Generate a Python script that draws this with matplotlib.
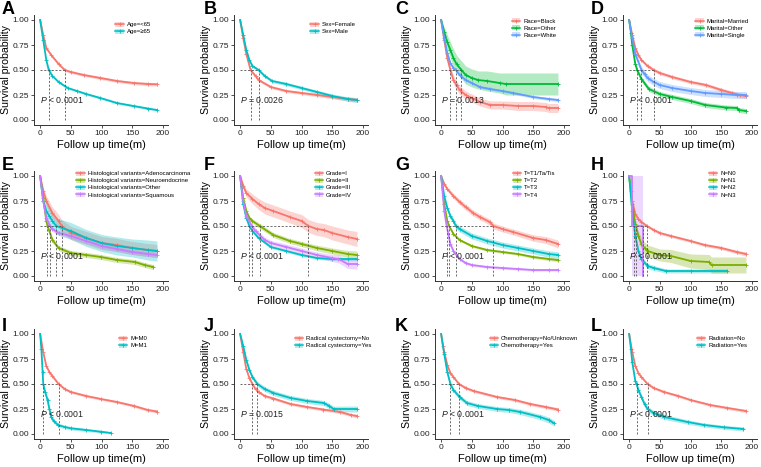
import numpy as np
import matplotlib.pyplot as plt
from matplotlib.patches import Patch
from matplotlib.lines import Line2D

plt.rcParams['font.family'] = ['Liberation Sans', 'DejaVu Sans']
plt.rcParams['mathtext.fontset'] = 'custom'
plt.rcParams['mathtext.it'] = 'Liberation Sans:italic'
plt.rcParams['mathtext.rm'] = 'Liberation Sans'

# Kurva KM: (waktu, survival, setengah lebar CI)
age_lt65 = [(0,1,0),(5,.85,.01),(10,.72,.012),(18,.65,.013),(30,.56,.014),(40,.50,.014),(50,.48,.014),
            (71,.45,.015),(98,.42,.015),(125,.39,.015),(152,.37,.016),(175,.36,.017),(190,.357,.017)]
age_ge65 = [(0,1,0),(5,.80,.01),(10,.60,.01),(14,.50,.011),(20,.44,.011),(30,.38,.011),(45,.32,.011),
            (60,.29,.011),(75,.26,.011),(98,.22,.011),(125,.17,.011),(152,.14,.011),(175,.115,.011),(190,.10,.011)]

sex_female = [(0,1,0),(5,.82,.012),(10,.66,.014),(17,.50,.015),(25,.44,.015),(30,.40,.015),(50,.33,.015),
              (75,.29,.015),(100,.27,.016),(125,.25,.017),(150,.23,.018),(175,.21,.02),(190,.20,.022)]
sex_male = [(0,1,0),(5,.85,.012),(10,.70,.014),(15,.60,.015),(20,.54,.016),(30,.50,.016),(40,.44,.016),
            (52,.39,.016),(75,.36,.017),(100,.32,.017),(125,.28,.018),(150,.24,.02),(175,.21,.022),(190,.20,.024)]

race_black = [(0,1,0),(5,.80,.03),(10,.62,.04),(15,.50,.045),(20,.40,.045),(25,.35,.045),(30,.30,.045),
              (40,.25,.04),(50,.22,.04),(63,.18,.04),(80,.15,.04),(100,.15,.04),(125,.14,.045),(150,.14,.045),
              (170,.13,.045),(175,.12,.045),(190,.12,.045)]
race_other = [(0,1,0),(5,.88,.05),(10,.78,.07),(15,.70,.08),(20,.62,.09),(25,.56,.09),(33,.50,.09),
              (40,.45,.09),(50,.42,.09),(60,.40,.09),(75,.39,.1),(95,.37,.1),(105,.36,.11),(190,.36,.11)]
race_white = [(0,1,0),(5,.82,.008),(10,.67,.01),(15,.57,.011),(20,.52,.011),(24,.50,.011),(30,.45,.011),
              (40,.40,.011),(50,.37,.011),(63,.33,.012),(80,.31,.012),(100,.29,.012),(117,.27,.013),
              (150,.23,.014),(175,.21,.015),(190,.20,.016)]

mar_married = [(0,1,0),(5,.85,.012),(10,.72,.014),(15,.65,.015),(20,.60,.016),(30,.54,.016),(40,.50,.017),
               (50,.47,.017),(70,.43,.017),(100,.38,.018),(125,.35,.018),(150,.30,.02),(167,.27,.02),
               (180,.25,.022),(190,.24,.024)]
mar_other = [(0,1,0),(3,.87,.02),(5,.75,.02),(10,.56,.025),(13,.50,.025),(20,.41,.025),(32,.31,.025),
             (50,.26,.025),(70,.23,.025),(100,.19,.025),(124,.15,.025),(157,.125,.025),(175,.12,.025),
             (178,.10,.025),(190,.09,.025)]
mar_single = [(0,1,0),(5,.82,.02),(10,.66,.03),(20,.50,.035),(25,.46,.035),(30,.42,.035),(40,.38,.035),
              (50,.35,.035),(70,.32,.035),(100,.29,.035),(124,.27,.035),(150,.26,.035),(175,.25,.035),(190,.25,.035)]

hist_adeno = [(0,1,0),(5,.85,.04),(10,.75,.05),(20,.63,.06),(30,.55,.065),(35,.50,.065),(50,.43,.065),
              (75,.38,.065),(100,.33,.065),(125,.31,.065),(150,.28,.065),(175,.26,.065),(190,.25,.065)]
hist_neuro = [(0,1,0),(5,.78,.02),(10,.55,.025),(12,.50,.025),(20,.36,.025),(30,.28,.025),(50,.23,.025),
              (75,.21,.025),(99,.19,.025),(125,.16,.025),(154,.14,.025),(170,.11,.025),(184,.09,.025)]
hist_other = [(0,1,0),(5,.75,.05),(10,.65,.07),(15,.60,.08),(20,.55,.08),(26,.50,.08),(50,.45,.085),
              (75,.38,.085),(100,.33,.085),(125,.30,.09),(150,.28,.09),(175,.26,.1),(190,.25,.1)]
hist_squam = [(0,1,0),(5,.75,.02),(10,.58,.025),(16,.50,.025),(20,.47,.025),(30,.43,.025),(50,.40,.025),
              (75,.35,.025),(100,.30,.025),(125,.27,.025),(150,.24,.025),(175,.22,.025),(190,.21,.025)]

grade_1 = [(0,1,0),(5,.90,.03),(10,.83,.04),(20,.77,.05),(30,.72,.055),(40,.68,.06),(54,.65,.06),(81,.59,.06),
           (100,.55,.065),(111,.50,.065),(125,.47,.065),(136,.46,.065),(150,.43,.07),(175,.39,.07),(190,.37,.075)]
grade_2 = [(0,1,0),(5,.78,.015),(10,.65,.02),(15,.58,.022),(20,.55,.023),(32,.50,.024),(54,.41,.025),
           (81,.35,.025),(100,.32,.026),(125,.28,.028),(150,.25,.03),(175,.22,.035),(190,.21,.04)]
grade_3 = [(0,1,0),(5,.72,.01),(10,.58,.012),(15,.50,.013),(20,.45,.013),(30,.38,.013),(50,.29,.013),
           (75,.25,.013),(100,.21,.014),(125,.18,.014),(150,.17,.015),(175,.17,.016),(190,.17,.017)]
grade_4 = [(0,1,0),(5,.75,.02),(10,.60,.025),(19,.50,.027),(25,.45,.027),(40,.36,.027),(50,.33,.027),
           (75,.29,.028),(100,.25,.03),(125,.21,.03),(150,.18,.035),(160,.17,.04),(175,.12,.045),(190,.12,.05)]

t_1 = [(0,1,0),(5,.92,.015),(10,.87,.02),(20,.80,.025),(30,.74,.028),(40,.69,.03),(52,.63,.03),(63,.59,.03),
       (79,.54,.03),(85,.50,.03),(100,.47,.03),(117,.44,.03),(150,.38,.032),(170,.36,.035),(190,.32,.04)]
t_2 = [(0,1,0),(5,.72,.01),(10,.55,.012),(13,.50,.012),(20,.42,.012),(30,.36,.012),(50,.30,.012),
       (75,.26,.012),(100,.24,.013),(125,.22,.013),(150,.19,.014),(175,.17,.015),(190,.16,.016)]
t_3 = [(0,1,0),(5,.80,.015),(10,.68,.02),(15,.60,.025),(20,.55,.028),(24,.50,.03),(30,.47,.03),(50,.40,.03),
       (75,.35,.03),(100,.31,.03),(125,.28,.03),(150,.25,.03),(175,.22,.032),(190,.21,.034)]
t_4 = [(0,1,0),(5,.65,.015),(9,.50,.017),(15,.32,.017),(20,.25,.016),(30,.17,.015),(40,.13,.014),
       (50,.11,.013),(75,.09,.012),(100,.08,.012),(125,.07,.012),(150,.06,.012),(175,.06,.012),(190,.06,.012)]

n_0 = [(0,1,0),(3,.85,.01),(5,.75,.012),(10,.62,.013),(15,.57,.014),(20,.54,.014),(29,.50,.015),
       (40,.46,.015),(50,.43,.015),(68,.40,.015),(100,.35,.015),(123,.31,.016),(150,.28,.017),
       (175,.24,.018),(190,.22,.02)]
n_1 = [(0,1,0),(5,.72,.04),(10,.52,.05),(11,.50,.05),(15,.40,.05),(20,.32,.055),(25,.28,.06),(30,.25,.06),
       (50,.21,.06),(68,.20,.065),(100,.15,.07),(130,.14,.075),(134,.11,.08),(190,.11,.08)]
n_2 = [(0,1,0),(5,.65,.03),(8,.50,.035),(10,.40,.035),(15,.25,.03),(20,.17,.03),(30,.10,.025),
       (40,.08,.025),(60,.05,.02),(100,.05,.02),(159,.05,.02)]
n_3 = [(0,1,0),(5,1,0),(5,.5,.5),(23,.5,.5),(23,0,0)]

m_0 = [(0,1,0),(5,.82,.01),(10,.68,.012),(15,.62,.012),(20,.58,.013),(30,.50,.013),(40,.45,.013),
       (50,.42,.013),(75,.38,.013),(99,.35,.013),(125,.32,.013),(153,.28,.014),(175,.24,.015),(190,.225,.016)]
m_1 = [(0,1,0),(2,.85,.02),(4,.62,.025),(5,.50,.028),(8,.42,.03),(12,.34,.03),(15,.25,.03),(18,.17,.025),
       (22,.13,.022),(29,.09,.02),(40,.07,.018),(50,.057,.017),(75,.04,.015),(99,.023,.012),(115,.01,.01)]

rc_no = [(0,1,0),(5,.82,.012),(10,.65,.014),(15,.56,.015),(20,.50,.015),(25,.45,.015),(30,.42,.015),
         (40,.38,.015),(54,.355,.015),(82,.30,.015),(109,.27,.015),(135,.245,.015),(163,.22,.016),
         (180,.19,.017),(190,.18,.018)]
rc_yes = [(0,1,0),(5,.88,.015),(10,.74,.02),(15,.64,.022),(20,.57,.024),(28,.50,.025),(40,.45,.025),
          (54,.41,.025),(82,.36,.025),(109,.33,.025),(136,.31,.026),(145,.28,.027),(152,.25,.028),(190,.25,.03)]

chemo_no = [(0,1,0),(3,.88,.01),(5,.82,.012),(10,.69,.013),(15,.61,.014),(20,.57,.014),(29,.50,.015),
            (40,.46,.015),(53,.43,.015),(91,.37,.015),(120,.34,.015),(145,.30,.016),(170,.27,.017),(190,.245,.018)]
chemo_yes = [(0,1,0),(5,.80,.02),(10,.62,.022),(15,.50,.024),(20,.44,.024),(30,.37,.024),(42,.31,.024),
             (60,.28,.024),(91,.25,.024),(110,.24,.025),(129,.22,.026),(161,.17,.028),(175,.14,.03),(183,.11,.03)]

rad_no = [(0,1,0),(5,.82,.01),(10,.68,.011),(15,.61,.012),(20,.57,.012),(30,.50,.013),(40,.46,.013),
          (57,.42,.013),(80,.38,.013),(100,.34,.013),(132,.29,.014),(160,.26,.015),(190,.23,.016)]
rad_yes = [(0,1,0),(3,.85,.02),(5,.72,.025),(10,.53,.028),(12,.50,.028),(15,.44,.028),(20,.37,.028),
           (25,.30,.028),(30,.25,.027),(40,.21,.026),(57,.17,.025),(95,.12,.022),(122,.09,.02),
           (154,.067,.02),(186,.05,.02)]

pal2 = ['#F8766D', '#00BFC4']
pal3 = ['#F8766D', '#00BA38', '#619CFF']
pal4 = ['#F8766D', '#7CAE00', '#00BFC4', '#C77CFF']

# (huruf, label legenda, kurva, median, teks p)
panels = [
    ('A', ['Age=<65', 'Age=\u226565'], [age_lt65, age_ge65], [14, 41], '$P$ < 0.0001'),
    ('B', ['Sex=Female', 'Sex=Male'], [sex_female, sex_male], [17, 30], '$P$ = 0.0026'),
    ('C', ['Race=Black', 'Race=Other', 'Race=White'], [race_black, race_other, race_white], [15, 24, 33], '$P$ = 0.0013'),
    ('D', ['Marital=Married', 'Marital=Other', 'Marital=Single'], [mar_married, mar_other, mar_single], [13, 20, 40], '$P$ < 0.0001'),
    ('E', ['Histological variants=Adenocarcinoma', 'Histological variants=Neuroendocrine',
           'Histological variants=Other', 'Histological variants=Squamous'],
     [hist_adeno, hist_neuro, hist_other, hist_squam], [11, 16, 26, 35], '$P$ < 0.0001'),
    ('F', ['Grade=I', 'Grade=II', 'Grade=III', 'Grade=IV'], [grade_1, grade_2, grade_3, grade_4], [15, 19, 32, 111], '$P$ < 0.0001'),
    ('G', ['T=T1/Ta/Tis', 'T=T2', 'T=T3', 'T=T4'], [t_1, t_2, t_3, t_4], [9, 13, 24, 85], '$P$ < 0.0001'),
    ('H', ['N=N0', 'N=N1', 'N=N2', 'N=N3'], [n_0, n_1, n_2, n_3], [8, 11, 23, 29], '$P$ < 0.0001'),
    ('I', ['M=M0', 'M=M1'], [m_0, m_1], [5, 30], '$P$ < 0.0001'),
    ('J', ['Radical cystectomy=No', 'Radical cystectomy=Yes'], [rc_no, rc_yes], [20, 28], '$P$ = 0.0015'),
    ('K', ['Chemotherapy=No/Unknown', 'Chemotherapy=Yes'], [chemo_no, chemo_yes], [15, 29], '$P$ < 0.0001'),
    ('L', ['Radiation=No', 'Radiation=Yes'], [rad_no, rad_yes], [12, 30], '$P$ < 0.0001'),
]

W, H = 761, 467
fig = plt.figure(figsize=(W / 100, H / 100), dpi=100)

col_left = [34, 234, 435, 623]
row_top = [15, 171, 329]
ax_w, ax_h = 134, 110
letter_x = [2, 204, 395, 591]
letter_y = [1, 157, 318]

for i, (letter, labels, curves, medians, ptxt) in enumerate(panels):
    r, c = divmod(i, 4)
    ax = fig.add_axes([col_left[c] / W, 1 - (row_top[r] + ax_h) / H, ax_w / W, ax_h / H])
    pal = {2: pal2, 3: pal3, 4: pal4}[len(curves)]
    handles = []
    for curve, col in zip(curves, pal):
        arr = np.array(curve, dtype=float)
        t, s, w = arr[:, 0], arr[:, 1], arr[:, 2]
        ax.fill_between(t, np.clip(s - w, 0, 1), np.clip(s + w, 0, 1), color=col, alpha=0.3, lw=0)
    for curve, col in zip(curves, pal):
        arr = np.array(curve, dtype=float)
        t, s = arr[:, 0], arr[:, 1]
        ax.plot(t, s, color=col, lw=1.3)
        if curve is not n_3:
            ax.plot(t[1:], s[1:], ls='none', marker='+', ms=2.5, mew=0.6, color=col)
        handles.append((Patch(facecolor=col, alpha=0.3, lw=0),
                        Line2D([], [], color=col, lw=1.1, marker='+', ms=2.5, mew=0.6)))
    # garis median
    ax.plot([0, max(medians)], [0.5, 0.5], color='#555555', lw=0.6, ls=(0, (2.5, 2)))
    for m in medians:
        ax.plot([m, m], [0, 0.5], color='#555555', lw=0.6, ls=(0, (2.5, 2)))
    ax.text(0, 0.2, ptxt, fontsize=6.3, ha='left', va='center', color='#222222')

    ax.set_xlim(-10, 208)
    ax.set_ylim(-0.05, 1.05)
    ax.set_xticks([0, 50, 100, 150, 200])
    ax.set_yticks([0, 0.25, 0.5, 0.75, 1.0])
    ax.set_yticklabels(['0.00', '0.25', '0.50', '0.75', '1.00'])
    ax.tick_params(labelsize=6, length=2, width=0.6, pad=1.5, colors='#333333', labelcolor='#222222')
    for sp in ['top', 'right']:
        ax.spines[sp].set_visible(False)
    for sp in ['left', 'bottom']:
        ax.spines[sp].set_linewidth(0.7)
        ax.spines[sp].set_color('#333333')
    ax.set_xlabel('Follow up time(m)', fontsize=8, labelpad=2)
    ax.set_ylabel('Survival probability', fontsize=7.6, labelpad=1)

    leg = ax.legend(handles, labels, loc='center', bbox_to_anchor=(0.74, 0.88), frameon=False,
                    fontsize=4.3, handlelength=1.4, handleheight=0.9, handletextpad=0.5,
                    labelspacing=0.25, borderpad=0)
    fig.text(letter_x[c] / W, 1 - letter_y[r] / H, letter, fontsize=13, fontweight='bold', va='top', ha='left')

fig.savefig('out.png', dpi=100)
